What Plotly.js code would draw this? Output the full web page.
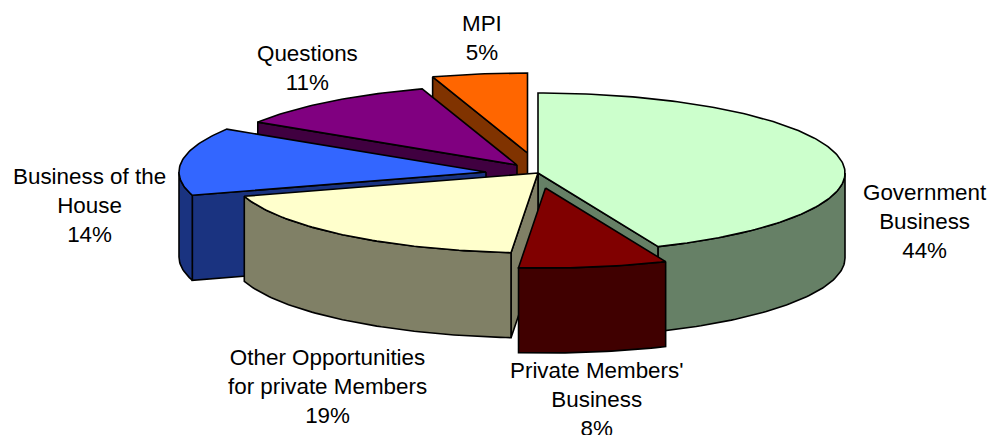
<!DOCTYPE html>
<html>
<head>
<meta charset="utf-8">
<script src="https://cdn.plot.ly/plotly-3.0.1.min.js"></script>
<style>html,body{margin:0;padding:0;background:#fff}#chart{width:990px;height:435px}</style>
</head>
<body>
<div id="chart"></div>
<script>
// Data, clockwise from 12 o'clock
var categories = ['Government<br>Business', "Private Members'<br>Business", 'Other Opportunities<br>for private Members', 'Business of the<br>House', 'Questions', 'MPI'];
var shares = [43.6, 7.8, 18.9, 13.7, 11, 5];

// Styles
var topColors = ['#CCFFCC', '#800000', '#FFFFCC', '#3366FF', '#800080', '#FF6600'];
var sideColors = ['#668066', '#400000', '#808066', '#1A3380', '#400040', '#803300'];
var drawOrder = [5, 4, 3, 0, 2, 1];

// Geometry of the tilted pie, in pixels
var R = {cx: 538, cy: 173, a: 307, b: 80, depth: 85, W: 990, H: 435};
var explodeX = [0, 7.5, 0, -52, -21, -10.5];
var explodeY = [0, 15, 0, -1, -8, -20];
var labelX = [925, 597, 327, 89, 307, 482];
var labelY = [221, 399, 386, 205, 68, 38];

function pt(c, deg, drop) {
  var t = deg * Math.PI / 180;
  return [c[0] + Math.sin(t), c[1] + Math.cos(t) - drop];
}
function arc(c, from, to, drop) {
  var out = [], n = Math.max(2, Math.ceil(Math.abs(to - from)));
  for (var i = 0; i <= n; i++) out.push(pt(c, from + (to - from) * i / n, drop));
  return out;
}
function poly(name, color, pts) {
  return {
    type: 'scatter', mode: 'lines', fill: 'toself', fillcolor: color, name: name.replace('<br>', ' '),
    x: pts.map(function (p) { return p[0]; }), y: pts.map(function (p) { return p[1]; }),
    line: {color: '#000000', width: 1.6}, showlegend: false, hoverinfo: 'name'
  };
}

var total = shares.reduce(function (s, v) { return s + v; }, 0);
var starts = [], run = 0;
shares.forEach(function (v) { starts.push(run / total * 360); run += v; });

var d = R.depth / R.b;
var traces = [];
drawOrder.forEach(function (i) {
  var s = starts[i], e = s + shares[i] / total * 360;
  var c = [explodeX[i] / R.a, -explodeY[i] / R.b];
  var side = sideColors[i], name = categories[i];
  var closeP = function (arr) { return arr.concat([arr[0]]); };
  // radial cut faces that look toward the viewer
  if (s >= 180 && s < 360) {
    var p = pt(c, s, 0);
    traces.push(poly(name, side, closeP([[c[0], c[1]], p, [p[0], p[1] - d], [c[0], c[1] - d]])));
  }
  if (e > 0 && e < 180) {
    var q = pt(c, e, 0);
    traces.push(poly(name, side, closeP([[c[0], c[1]], q, [q[0], q[1] - d], [c[0], c[1] - d]])));
  }
  // outer rim: only the front half of the ellipse
  var f = Math.max(s, 90), g = Math.min(e, 270);
  if (g > f) {
    traces.push(poly(name, side, closeP(arc(c, f, g, 0).concat(arc(c, g, f, d)))));
  }
  // top face
  traces.push(poly(name, topColors[i], closeP([[c[0], c[1]]].concat(arc(c, s, e, 0)))));
});

var annotations = categories.map(function (cat, i) {
  return {
    xref: 'paper', yref: 'paper', x: labelX[i] / R.W, y: 1 - labelY[i] / R.H,
    xanchor: 'center', yanchor: 'middle', align: 'center', showarrow: false,
    text: cat + '<br>' + Math.round(shares[i]) + '%',
    font: {family: '"Liberation Sans", Arial, sans-serif', size: 22.4, color: '#000000'}
  };
});

var layout = {
  width: R.W, height: R.H, margin: {l: 0, r: 0, t: 0, b: 0},
  paper_bgcolor: '#ffffff', plot_bgcolor: '#ffffff', showlegend: false,
  xaxis: {visible: false, range: [-R.cx / R.a, (R.W - R.cx) / R.a], fixedrange: true},
  yaxis: {visible: false, range: [-(R.H - R.cy) / R.b, R.cy / R.b], fixedrange: true},
  annotations: annotations
};
Plotly.newPlot('chart', traces, layout, {displayModeBar: false, responsive: false});
</script>
</body>
</html>
